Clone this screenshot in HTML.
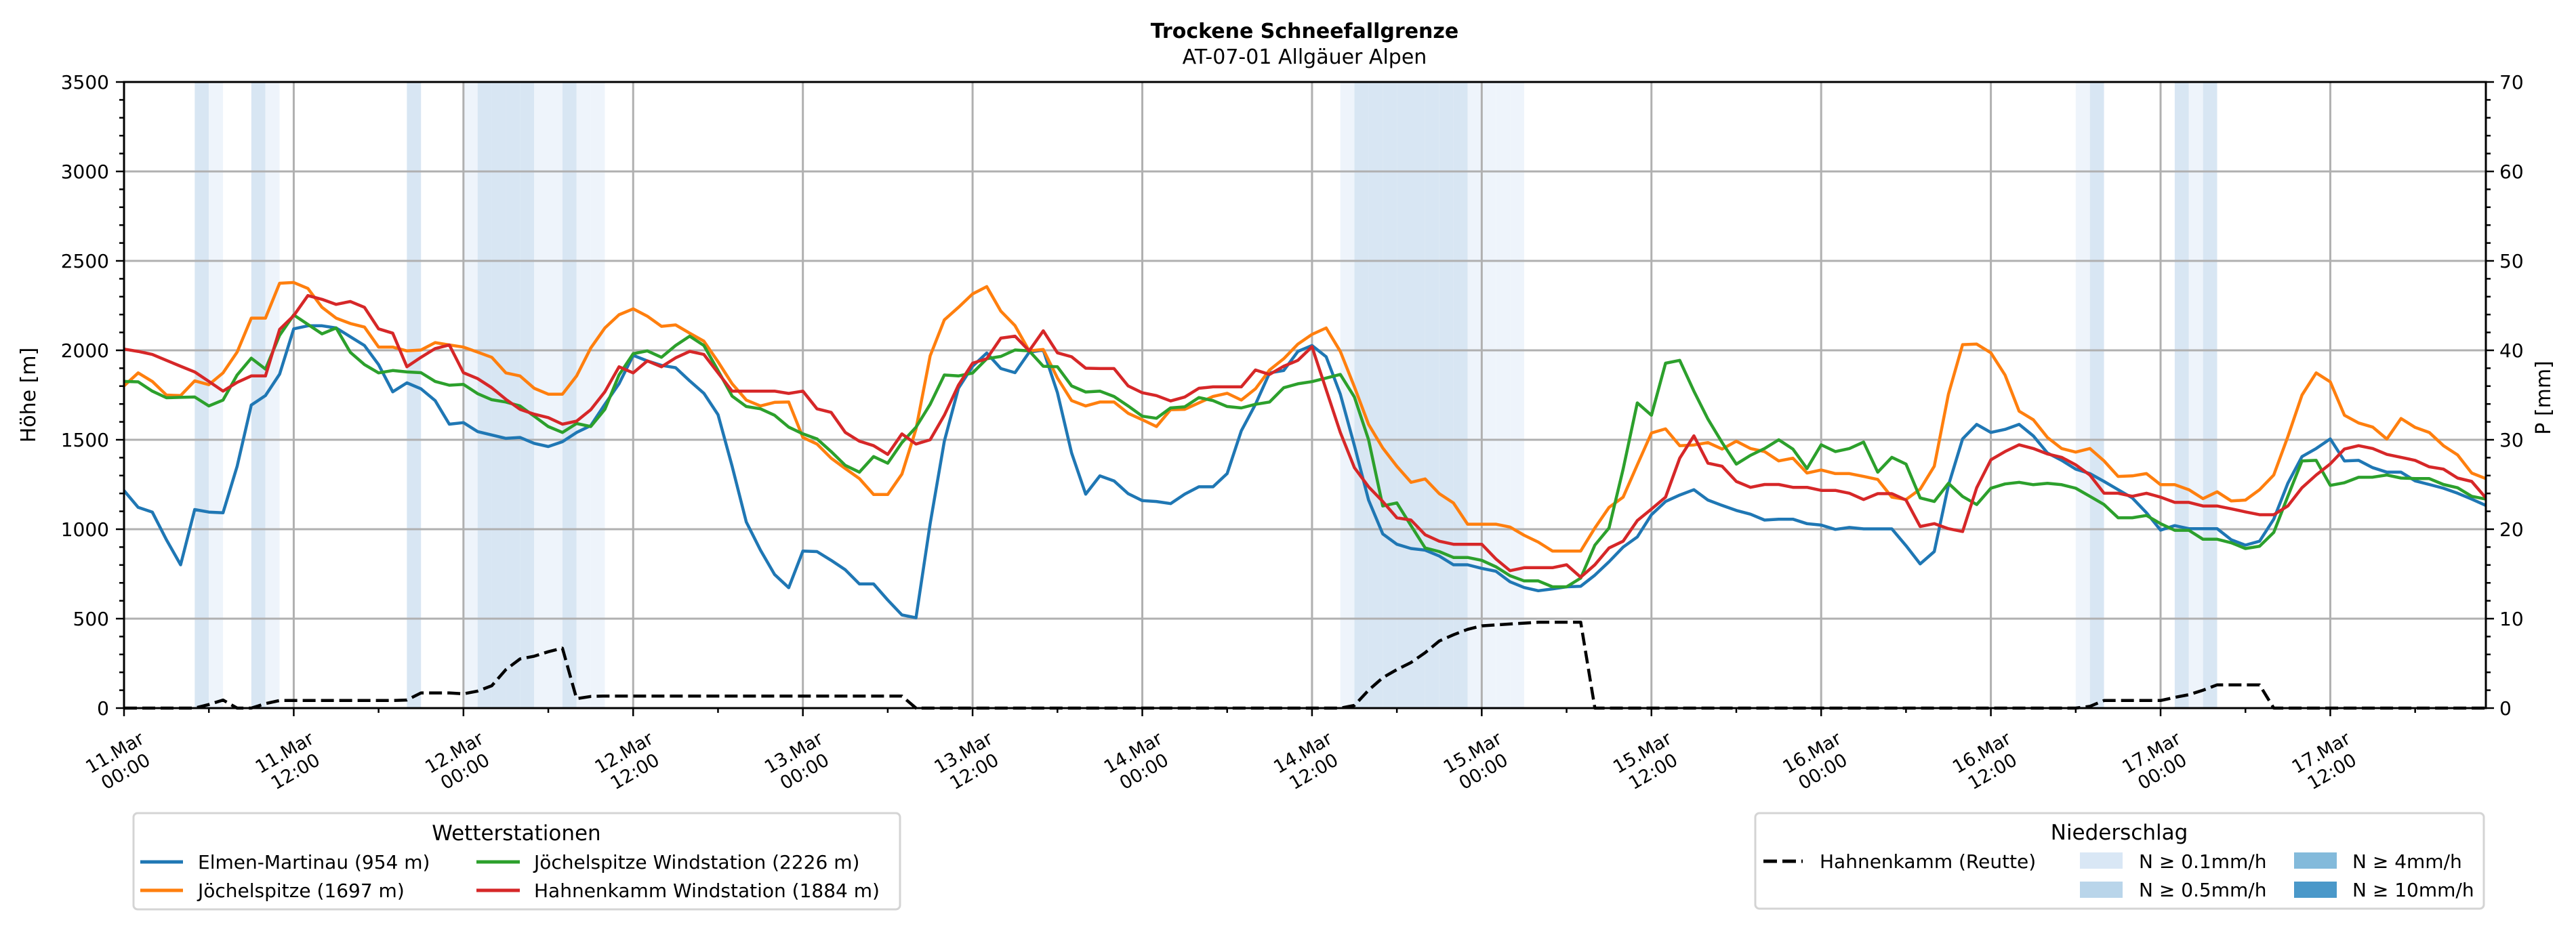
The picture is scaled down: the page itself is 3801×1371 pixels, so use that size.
<!DOCTYPE html>
<html><head><meta charset="utf-8"><title>Trockene Schneefallgrenze</title>
<style>
html,body{margin:0;padding:0;background:#fff;}
svg{display:block;font-family:"DejaVu Sans","Liberation Sans",sans-serif;}
</style></head>
<body>
<svg id="chart" xmlns="http://www.w3.org/2000/svg" width="3801" height="1371" viewBox="0 0 3801 1371">
<rect x="0" y="0" width="3801" height="1371" fill="#fff"/>
<text x="1925" y="56" font-size="30" font-weight="bold" text-anchor="middle">Trockene Schneefallgrenze</text>
<text x="1925" y="94" font-size="30" text-anchor="middle">AT-07-01 Allgäuer Alpen</text>
<g id="bands"></g>
<g id="grid"></g>
<g id="series"></g>
<g id="axes"></g>
<text transform="translate(52,583) rotate(-90)" font-size="30" text-anchor="middle">Höhe [m]</text>
<text transform="translate(3763,587) rotate(-90)" font-size="30" text-anchor="middle">P [mm]</text>

<g>
<rect x="197" y="1200" width="1131" height="142" rx="6" fill="#fff" stroke="#d4d4d4" stroke-width="3"/>
<text x="762" y="1240" font-size="31" text-anchor="middle">Wetterstationen</text>
<g><line x1="207" y1="1272" x2="270" y2="1272" stroke="#1f77b4" stroke-width="5"/><text x="292" y="1282" font-size="28">Elmen-Martinau (954 m)</text></g>
<g><line x1="207" y1="1314" x2="270" y2="1314" stroke="#ff7f0e" stroke-width="5"/><text x="292" y="1324" font-size="28">Jöchelspitze (1697 m)</text></g>
<g><line x1="703" y1="1272" x2="767" y2="1272" stroke="#2ca02c" stroke-width="5"/><text x="788" y="1282" font-size="28">Jöchelspitze Windstation (2226 m)</text></g>
<g><line x1="703" y1="1314" x2="767" y2="1314" stroke="#d62728" stroke-width="5"/><text x="788" y="1324" font-size="28">Hahnenkamm Windstation (1884 m)</text></g>
</g>

<g>
<rect x="2590" y="1200" width="1075" height="141" rx="6" fill="#fff" stroke="#d4d4d4" stroke-width="3"/>
<text x="3127" y="1239" font-size="31" text-anchor="middle">Niederschlag</text>
<g><line x1="2602" y1="1271" x2="2660" y2="1271" stroke="#000" stroke-width="5" stroke-dasharray="20 8"/><text x="2685" y="1281" font-size="28">Hahnenkamm (Reutte)</text></g>
<g><rect x="3069" y="1258" width="63" height="24" fill="#d9e7f5"/><text x="3156" y="1281" font-size="28">N ≥ 0.1mm/h</text></g>
<g><rect x="3069" y="1301" width="63" height="24" fill="#b9d5ea"/><text x="3156" y="1323" font-size="28">N ≥ 0.5mm/h</text></g>
<g><rect x="3385" y="1258" width="63" height="24" fill="#83badb"/><text x="3471" y="1281" font-size="28">N ≥ 4mm/h</text></g>
<g><rect x="3385" y="1301" width="63" height="24" fill="#4a98c9"/><text x="3471" y="1323" font-size="28">N ≥ 10mm/h</text></g>
</g>
</svg>
<script>
// ---- data (hourly, starting 11.Mar 00:00) ----
const elmen = [1216,1122,1096,941,801,1110,1096,1092,1352,1694,1747,1867,2120,2137,2137,2125,2076,2027,1920,1768,1818,1785,1719,1587,1596,1546,1527,1508,1513,
1480,1462,1489,1541,1579,1698,1813,1972,1941,1916,1903,1829,1760,1640,1352,1040,883,747,673,878,875,826,773,694,694,604,521,505,
1031,1492,1788,1911,1985,1898,1875,1989,2002,1763,1426,1196,1298,1270,1199,1160,1155,1143,1196,1237,1237,1311,1550,1698,1874,1887,1994,2027,
1964,1755,1467,1163,974,916,892,883,850,801,801,781,765,706,674,656,666,678,681,743,818,900,957,1081,1155,1191,1221,
1163,1133,1105,1084,1051,1056,1056,1031,1023,999,1010,1002,1002,1002,908,806,875,1245,1505,1586,1541,1558,1586,1522,1426,1385,1336,1311,
1267,1221,1175,1092,995,1020,1003,1003,1003,941,911,933,1056,1257,1406,1451,1505,1382,1385,1344,1319,1319,1270,1250,1229,1201,1168,1133];
const joechel = [1801,1874,1826,1750,1747,1829,1808,1874,1990,2180,2180,2375,2379,2346,2240,2180,2150,2130,2018,2018,1997,2002,2043,2030,2018,1990,1961,1874,1857,
1788,1755,1755,1857,2013,2125,2199,2232,2191,2134,2142,2096,2051,1936,1813,1722,1689,1709,1711,1513,1476,1397,1339,1283,1194,1194,1308,1560,
1969,2170,2240,2315,2356,2219,2138,1997,2005,1845,1719,1689,1711,1711,1648,1612,1574,1668,1670,1706,1742,1760,1722,1785,1890,1953,2035,2089,
2125,1994,1796,1586,1454,1352,1262,1281,1199,1147,1028,1028,1028,1012,966,928,878,878,878,1007,1122,1179,1360,1538,1561,1467,1471,
1484,1448,1492,1451,1434,1382,1397,1314,1331,1311,1311,1295,1278,1179,1166,1224,1352,1755,2032,2035,1986,1862,1660,1612,1513,1451,1431,1451,
1382,1295,1298,1311,1249,1249,1221,1171,1209,1158,1163,1221,1303,1517,1750,1874,1824,1637,1594,1571,1504,1619,1569,1541,1467,1415,1314,1283];
const joechelWind = [1826,1824,1772,1735,1737,1739,1689,1722,1862,1956,1895,2084,2198,2145,2092,2125,1989,1920,1874,1887,1879,1875,1826,1805,1810,1758,1724,1711,1689,
1632,1574,1541,1591,1574,1670,1862,1981,1997,1961,2027,2079,2027,1887,1744,1686,1673,1637,1571,1533,1505,1434,1357,1319,1406,1369,1484,1570,
1698,1862,1857,1873,1953,1966,2002,1997,1911,1908,1801,1767,1772,1742,1689,1632,1620,1678,1684,1736,1719,1686,1678,1698,1711,1791,1813,1825,
1845,1865,1739,1500,1130,1147,1020,895,875,842,842,826,790,740,711,711,678,678,727,911,1007,1336,1706,1637,1928,1944,1772,
1615,1484,1364,1413,1451,1500,1448,1339,1472,1434,1451,1487,1319,1402,1364,1175,1155,1257,1183,1138,1229,1253,1262,1249,1257,1249,1229,1184,
1138,1064,1064,1077,1031,994,994,944,944,924,892,905,982,1184,1382,1385,1245,1260,1290,1291,1303,1286,1283,1283,1250,1232,1184,1168];
const hahnWind = [2007,1994,1977,1944,1911,1879,1826,1772,1821,1857,1857,2117,2194,2306,2285,2257,2273,2240,2120,2096,1908,1961,2010,2030,1875,1842,1791,1726,1670,
1643,1624,1587,1604,1668,1768,1908,1874,1941,1908,1958,1994,1977,1874,1772,1772,1772,1772,1759,1772,1673,1653,1541,1492,1467,1418,1533,1476,
1500,1637,1805,1928,1953,2068,2079,1997,2109,1986,1964,1900,1898,1898,1801,1763,1747,1717,1739,1788,1796,1796,1796,1890,1865,1911,1944,2020,
1780,1541,1344,1237,1155,1064,1051,969,933,916,916,916,834,768,785,785,785,801,732,801,895,933,1048,1113,1179,1397,1522,
1369,1352,1267,1234,1250,1250,1234,1234,1217,1217,1201,1166,1199,1199,1163,1015,1031,1003,987,1232,1388,1434,1472,1451,1421,1402,1360,1303,
1201,1201,1184,1201,1179,1150,1150,1130,1130,1114,1097,1081,1081,1130,1232,1303,1365,1448,1467,1451,1418,1402,1385,1349,1336,1286,1267,1175];
const precipReutte = [0,0,0,0,0,0,0.4,0.9,0,0,0.5,0.85,0.85,0.85,0.85,0.85,0.85,0.85,0.85,0.85,0.9,1.7,1.7,1.7,1.6,1.9,2.5,4.3,5.5,
5.8,6.3,6.7,1.05,1.3,1.35,1.35,1.35,1.35,1.35,1.35,1.35,1.35,1.35,1.35,1.35,1.35,1.35,1.35,1.35,1.35,1.35,1.35,1.35,1.35,1.35,1.35,0,
0,0,0,0,0,0,0,0,0,0,0,0,0,0,0,0,0,0,0,0,0,0,0,0,0,0,0,0,
0,0,0.3,2.0,3.4,4.3,5.1,6.2,7.5,8.2,8.8,9.2,9.3,9.4,9.5,9.6,9.6,9.6,9.6,0,0,0,0,0,0,0,0,
0,0,0,0,0,0,0,0,0,0,0,0,0,0,0,0,0,0,0,0,0,0,0,0,0,0,0,0.2,
0.85,0.85,0.85,0.85,0.85,1.2,1.5,2.0,2.6,2.6,2.6,2.6,0,0,0,0,0,0,0,0,0,0,0,0,0,0,0,0];
// precipitation band hours and intensity class (1 = >=0.1, 2 = >=0.5)
const bandHours = [5,6,9,10,20,24,25,26,27,28,29,30,31,32,33,86,87,88,89,90,91,92,93,94,95,96,97,98,138,139,145,146,147];
const bandClass = [2,1,2,1,2,1,2,2,2,2,1,1,2,1,1,1,2,2,2,2,2,2,2,2,1,1,1,1,1,2,2,1,2];
const yTicks = [0,500,1000,1500,2000,2500,3000,3500];
const y2Ticks = [0,10,20,30,40,50,60,70];
const xTickHours = [0,12,24,36,48,60,72,84,96,108,120,132,144,156];
const xTickDays = ["11.Mar","11.Mar","12.Mar","12.Mar","13.Mar","13.Mar","14.Mar","14.Mar","15.Mar","15.Mar","16.Mar","16.Mar","17.Mar","17.Mar"];
const xTickTimes = ["00:00","12:00","00:00","12:00","00:00","12:00","00:00","12:00","00:00","12:00","00:00","12:00","00:00","12:00"];

// ---- axes ----
const L=183, R=3668, T=121, B=1045, NH=167, YMAX=3500, PMAX=70;
const xs = h => L + h*(R-L)/NH;
const ys = v => B - v*(B-T)/YMAX;
const yp = p => B - p*(B-T)/PMAX;
const NS="http://www.w3.org/2000/svg";
function mk(tag, parent, attrs){const e=document.createElementNS(NS,tag);for(const k in attrs)e.setAttribute(k,attrs[k]);parent.appendChild(e);return e;}

const gb=document.getElementById('bands');
bandHours.forEach((h,i)=>{
  const r=mk('rect',gb,{x:xs(h),y:T,width:xs(h+1)-xs(h),height:B-T,fill:bandClass[i]===2?'#d8e6f3':'#eef4fb'});
  
  
});

const gg=document.getElementById('grid');
yTicks.forEach(v=>{const l=mk('line',gg,{x1:L,x2:R,y1:ys(v),y2:ys(v),stroke:'#b0b0b0','stroke-width':3});
  
  });
xTickHours.forEach(h=>{const l=mk('line',gg,{x1:xs(h),x2:xs(h),y1:T,y2:B,stroke:'#b0b0b0','stroke-width':3});
  
  });

const gs=document.getElementById('series');
function line(vals, color, name, fy, dash){
  const pts=vals.map((v,i)=>xs(i).toFixed(1)+','+fy(v).toFixed(1)).join(' ');
  const p=mk('polyline',gs,{points:pts,fill:'none',stroke:color,'stroke-width':4.5,'stroke-linejoin':'round'});
  if(dash) p.setAttribute('stroke-dasharray',dash);
  
  
}
line(elmen,'#1f77b4','series-elmen-martinau',ys);
line(joechel,'#ff7f0e','series-joechelspitze',ys);
line(joechelWind,'#2ca02c','series-joechelspitze-windstation',ys);
line(hahnWind,'#d62728','series-hahnenkamm-windstation',ys);
line(precipReutte,'#000','series-precip-hahnenkamm-reutte',yp,'19 8');

const ga=document.getElementById('axes');
const frame=mk('rect',ga,{x:L,y:T,width:R-L,height:B-T,fill:'none',stroke:'#000','stroke-width':3});


for(let v=0;v<=YMAX;v+=100){const maj=v%500===0;mk('line',ga,{x1:L,x2:L-(maj?12:7),y1:ys(v),y2:ys(v),stroke:'#000','stroke-width':2.5});}
for(let p=0;p<=PMAX;p+=2){const maj=p%10===0;mk('line',ga,{x1:R,x2:R+(maj?12:7),y1:yp(p),y2:yp(p),stroke:'#000','stroke-width':2.5});}
for(let h=0;h<=NH;h+=6){const maj=h%12===0;mk('line',ga,{x1:xs(h),x2:xs(h),y1:B,y2:B+(maj?12:7),stroke:'#000','stroke-width':2.5});}
yTicks.forEach(v=>{const t=mk('text',ga,{x:L-22,y:ys(v)+10,'font-size':28,'text-anchor':'end'});t.textContent=v;
  
  });
y2Ticks.forEach(p=>{const t=mk('text',ga,{x:R+20,y:yp(p)+10,'font-size':28,'text-anchor':'start'});t.textContent=p;
  
  });
xTickHours.forEach((h,i)=>{
  const g=mk('g',ga,{transform:'translate('+(xs(h)-6)+',1124) rotate(-30)'});
  
  
  const a=mk('text',g,{x:0,y:-6,'font-size':27,'text-anchor':'middle'});a.textContent=xTickDays[i];
  const b=mk('text',g,{x:0,y:26,'font-size':27,'text-anchor':'middle'});b.textContent=xTickTimes[i];
});
</script>
</body></html>
